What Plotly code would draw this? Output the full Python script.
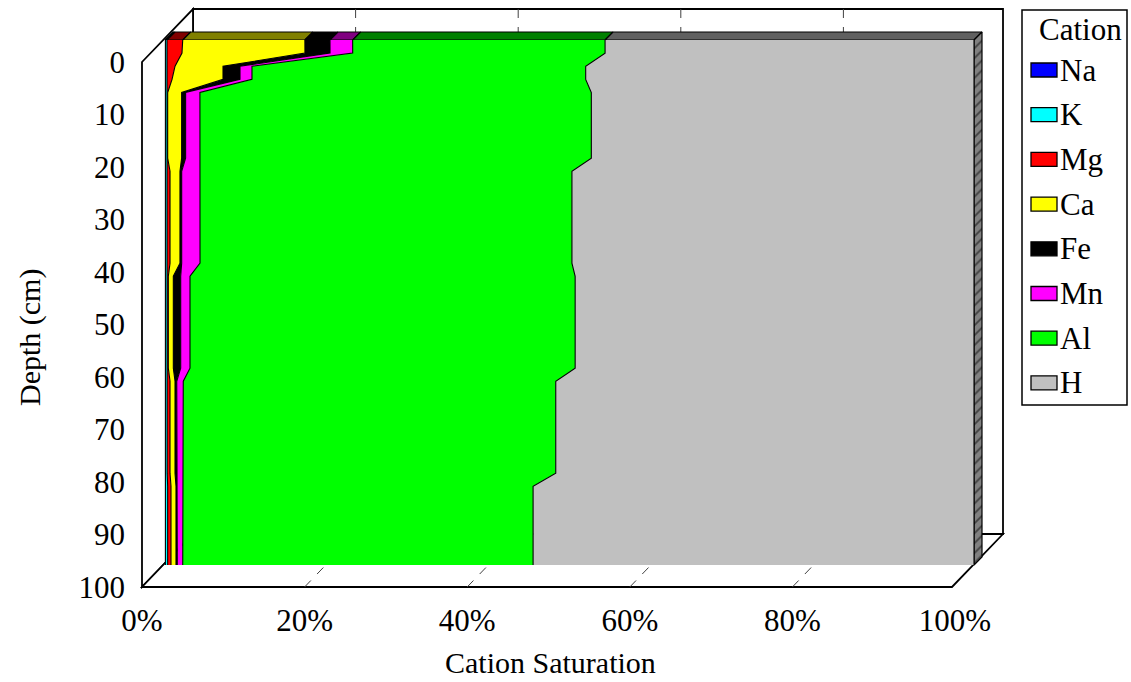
import numpy as np
import plotly.graph_objects as go

# ---- data: cation saturation (%) by soil depth (cm) ----
depth = [0, 2.5, 5, 7.5, 10, 22.5, 25, 42.5, 45, 62.5, 65, 82.5, 85, 100]

cations = ["Na", "K", "Mg", "Ca", "Fe", "Mn", "Al", "H"]
na = [0.05, 0.05, 0.05, 0.05, 0.05, 0.05, 0.05, 0.05, 0.05, 0.05, 0.05, 0.05, 0.05, 0.05]
k = [0.20, 0.20, 0.20, 0.20, 0.15, 0.15, 0.15, 0.15, 0.15, 0.15, 0.22, 0.22, 0.28, 0.28]
mg = [1.94, 1.85, 0.99, 0.62, 0.13, 0.13, 0.42, 0.42, 0.21, 0.21, 0.35, 0.35, 0.41, 0.41]
ca = [15.1, 15.2, 5.93, 6.30, 1.73, 1.73, 1.23, 1.23, 0.62, 0.62, 0.62, 0.62, 0.62, 0.62]
fe = [3.10, 3.10, 2.10, 2.10, 0.49, 0.49, 0.21, 0.21, 0.91, 0.91, 0.21, 0.21, 0.16, 0.16]
mn = [2.80, 2.80, 1.48, 1.48, 1.77, 1.77, 2.27, 2.27, 1.15, 1.15, 0.81, 0.81, 0.67, 0.67]
al = [31.2, 31.2, 41.25, 41.25, 48.42, 48.42, 45.97, 45.97, 47.61, 47.61, 46.04, 46.04, 43.31, 43.31]
h = [45.6, 45.6, 48.0, 48.0, 47.34, 47.34, 49.7, 49.7, 49.3, 49.3, 51.7, 51.7, 54.5, 54.5]
series = [na, k, mg, ca, fe, mn, al, h]

face_colors = ["#0000FF", "#00FFFF", "#FF0000", "#FFFF00", "#000000", "#FF00FF", "#00FF00", "#C0C0C0"]
top_colors = ["#000080", "#008080", "#800000", "#808000", "#000000", "#800080", "#008000", "#606060"]

x_ticks = [0, 20, 40, 60, 80, 100]
y_ticks = [0, 10, 20, 30, 40, 50, 60, 70, 80, 90, 100]

# ---- page geometry (pixels) ----
W, H = 1131, 682
FONT = "Liberation Serif"
FS = 31

# front face of the data slab
X0, X100 = 165, 974
Y0, Y100 = 40, 565
SLAB = 8  # depth of the slab (px, drawn up-right)

# front plane carrying the axis labels
LX0, LX100 = 142, 955
LY0, LY100 = 62, 587
# back wall offset
BDX, BDY = 51, 53
FLOOR_R = 952


def px(x):
    return x / W


def py(y):
    return 1 - y / H


sx = (X100 - X0) / 100.0   # px per percent
sy = (Y100 - Y0) / 100.0   # px per cm
dx = SLAB / sx
dy = SLAB / sy

PAD = 3
dom_l, dom_r = X0 - PAD, X100 + SLAB + PAD
dom_t, dom_b = Y0 - SLAB - PAD, Y100 + PAD

fig = go.Figure()

# slab top face and right side face
vals = np.array(series, dtype=float)
norm = vals / vals.sum(axis=0) * 100.0
cum = np.cumsum(norm, axis=0)
left = np.concatenate([[0.0], cum[:-1, 0]])
right = cum[:, 0]
for i, name in enumerate(cations):
    fig.add_trace(go.Scatter(
        x=[left[i], right[i], right[i] + dx, left[i] + dx, left[i]],
        y=[0, 0, -dy, -dy, 0],
        mode="lines", fill="toself", fillcolor=top_colors[i],
        line=dict(color="black", width=1.2),
        hoverinfo="skip", showlegend=False,
    ))

fig.add_trace(go.Scatter(
    x=[100, 100 + dx, 100 + dx, 100, 100],
    y=[0, -dy, 100 - dy, 100, 0],
    mode="lines", fill="toself", fillcolor="#808080",
    fillpattern=dict(shape="/", bgcolor="#808080", fgcolor="#000000", size=7, solidity=0.25),
    line=dict(color="black", width=1.2),
    hoverinfo="skip", showlegend=False,
))

# stacked 100% areas (front face)
for i, name in enumerate(cations):
    fig.add_trace(go.Scatter(
        x=series[i], y=depth, name=name,
        stackgroup="sat", orientation="h", groupnorm="percent",
        mode="lines", fillcolor=face_colors[i],
        line=dict(color="black", width=1.1),
        hoverinfo="skip", showlegend=False,
    ))

# empty trace so the label axes are created
fig.add_trace(go.Scatter(x=[], y=[], xaxis="x2", yaxis="y2", showlegend=False))

shapes = []


def path(points):
    s = "M " + " L ".join(f"{px(a):.5f},{py(b):.5f}" for a, b in points) + " Z"
    return s


frame_line = dict(color="black", width=1.8)
# walls and floor
shapes.append(dict(type="path", xref="paper", yref="paper", layer="below",
                   path=path([(LX0 + BDX, LY0 - BDY), (FLOOR_R + BDX, LY0 - BDY),
                              (FLOOR_R + BDX, LY100 - BDY), (LX0 + BDX, LY100 - BDY)]),
                   fillcolor="white", line=frame_line))
shapes.append(dict(type="path", xref="paper", yref="paper", layer="below",
                   path=path([(LX0, LY0), (LX0 + BDX, LY0 - BDY),
                              (LX0 + BDX, LY100 - BDY), (LX0, LY100)]),
                   fillcolor="white", line=frame_line))
shapes.append(dict(type="path", xref="paper", yref="paper", layer="below",
                   path=path([(LX0, LY100), (FLOOR_R, LY100),
                              (FLOOR_R + BDX, LY100 - BDY), (LX0 + BDX, LY100 - BDY)]),
                   fillcolor="white", line=frame_line))

# gridlines on back wall and floor
step = (LX100 - LX0) / 5.0
grid = dict(color="#404040", width=1, dash="dash")
for kk in range(1, 5):
    gx = LX0 + step * kk
    shapes.append(dict(type="line", xref="paper", yref="paper", layer="below",
                       x0=px(gx + BDX), x1=px(gx + BDX),
                       y0=py(LY0 - BDY), y1=py(LY100 - BDY), line=grid))
    shapes.append(dict(type="line", xref="paper", yref="paper", layer="below",
                       x0=px(gx), y0=py(LY100), x1=px(gx + BDX), y1=py(LY100 - BDY),
                       line=grid))

# legend
LEG_L, LEG_R, LEG_T, LEG_B = 1022, 1127, 10, 405
shapes.append(dict(type="rect", xref="paper", yref="paper",
                   x0=px(LEG_L), x1=px(LEG_R), y0=py(LEG_B), y1=py(LEG_T),
                   fillcolor="white", line=dict(color="black", width=1.5), layer="below"))
annotations = [dict(x=px((LEG_L + LEG_R) / 2 + 6), y=py(30), xref="paper", yref="paper",
                    text="Cation", showarrow=False, xanchor="center", yanchor="middle",
                    font=dict(family=FONT, size=FS, color="black"))]
for i, name in enumerate(cations):
    yc = 70 + 44.7 * i
    shapes.append(dict(type="rect", xref="paper", yref="paper",
                       x0=px(1031), x1=px(1057), y0=py(yc + 7), y1=py(yc - 7),
                       fillcolor=face_colors[i], line=dict(color="black", width=1.3)))
    annotations.append(dict(x=px(1058), y=py(yc), xref="paper", yref="paper",
                            text=name, showarrow=False, xanchor="left", yanchor="middle",
                            font=dict(family=FONT, size=FS, color="black")))

# axis titles
annotations.append(dict(x=px(550), y=py(662), xref="paper", yref="paper",
                        text="Cation Saturation", showarrow=False,
                        xanchor="center", yanchor="middle",
                        font=dict(family=FONT, size=FS - 1, color="black")))
annotations.append(dict(x=px(30), y=py(338), xref="paper", yref="paper",
                        text="Depth (cm)", showarrow=False, textangle=-90,
                        xanchor="center", yanchor="middle",
                        font=dict(family=FONT, size=FS - 1, color="black")))

fig.update_layout(
    width=W, height=H,
    margin=dict(l=0, r=0, t=0, b=0, pad=0, autoexpand=False),
    paper_bgcolor="white", plot_bgcolor="rgba(0,0,0,0)",
    showlegend=False,
    xaxis=dict(domain=[px(dom_l), px(dom_r)],
               range=[(dom_l - X0) / sx, (dom_r - X0) / sx],
               visible=False, fixedrange=True),
    yaxis=dict(domain=[py(dom_b), py(dom_t)],
               range=[(dom_b - Y0) / sy, (dom_t - Y0) / sy],
               visible=False, fixedrange=True),
    xaxis2=dict(domain=[px(LX0), px(LX100)], range=[0, 100], anchor="y2",
                tickvals=x_ticks, ticktext=[f"{v}%" for v in x_ticks],
                showgrid=False, zeroline=False, showline=False, ticks="",
                ticklabelstandoff=12, automargin=False,
                tickfont=dict(family=FONT, size=FS, color="black")),
    yaxis2=dict(domain=[py(LY100), py(LY0)], range=[100, 0], anchor="x2",
                tickvals=y_ticks, showgrid=False, zeroline=False, showline=False,
                ticks="", ticklabelstandoff=16, automargin=False,
                tickfont=dict(family=FONT, size=FS, color="black")),
    shapes=shapes,
    annotations=annotations,
)

fig.write_html("out.html")
